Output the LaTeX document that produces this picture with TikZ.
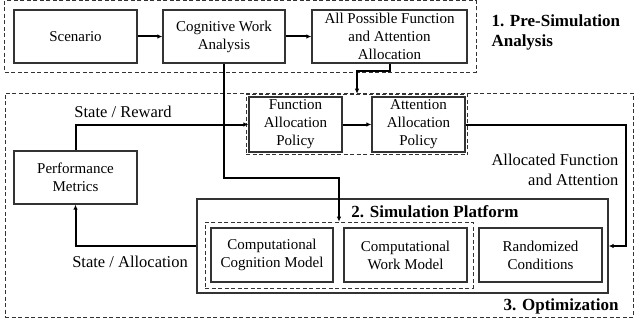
\documentclass[tikz,border=0pt]{standalone}
\usepackage{fontspec}
\setmainfont{Liberation Serif}
\usetikzlibrary{arrows.meta}
\usetikzlibrary{fit, positioning, backgrounds}
\colorlet{myline}{black!80}
\tikzset{
  >={Latex[length=5pt,width=4.5pt]},
  block/.style={draw=myline,line width=1.3pt,rectangle,align=center,inner sep=2,
    font=\fontsize{15}{18}\selectfont},
  frame/.style={draw=myline,line width=0.8pt,dashed,dash pattern=on 4pt off 2.5pt},
  flow/.style={line width=2pt,black,->},
  label/.style={font=\fontsize{16.5}{19.5}\selectfont,align=center},
  title/.style={font=\fontsize{17}{20}\selectfont\bfseries,align=left}
}
\begin{document}
\begin{tikzpicture}[x=1pt,y=-1pt]
  \useasboundingbox (0,0) rectangle (636,326);

  % --- STAGE 1: PRE-SIMULATION ANALYSIS ---
  \node[block, minimum width=123, minimum height=53] (scen) at (75.5, 36.5) {Scenario};
  \node[block, minimum width=122, minimum height=53] (cwa) at (224, 36.5) {Cognitive Work\\Analysis};
  \node[block, minimum width=155, minimum height=53] (all) at (389.5, 36.5) {All Possible Function\\and Attention\\Allocation};

  \node[frame, fit=(scen) (all), inner sep=8.5] (pre-box) {};
  \node[title, anchor=west] at (488, 32) {1. Pre-Simulation\\Analysis};

  \draw[flow] (scen) -- (cwa);
  \draw[flow] (cwa) -- (all);

  % --- STAGE 3: OPTIMIZATION ---
  \node[frame, minimum width=628, minimum height=224] (opt-box) at (319, 205) {};
  \node[title, anchor=east] at (622, 306) {3. Optimization};

  % policies
  \node[block, minimum width=93, minimum height=55] (fun) at (295.5, 124.5) {Function\\Allocation\\Policy};
  \node[block, minimum width=93, minimum height=55] (att) at (418.5, 124.5) {Attention\\Allocation\\Policy};
  \node[frame, fit=(fun) (att), inner sep=2.2] (pol-box) {};

  \node[block, minimum width=123, minimum height=53] (perf) at (75.5, 177.5) {Performance\\Metrics};

  % --- STAGE 2: SIMULATION PLATFORM ---
  \node[draw=myline, line width=1.3pt, minimum width=411, minimum height=94] (sim) at (402.5, 246) {};
  \node[title] at (435, 212) {2. Simulation Platform};

  \node[block, minimum width=122, minimum height=54] (cog) at (272, 255) {Computational\\Cognition Model};
  \node[block, minimum width=123, minimum height=54] (work) at (405.5, 255) {Computational\\Work Model};
  \node[block, minimum width=123, minimum height=54] (rnd) at (540.5, 255) {Randomized\\Conditions};
  \node[frame, fit=(cog) (work), inner sep=5.3] (core-box) {};

  % --- CONNECTIONS ---
  \draw[flow] (all.south) -- ++(0,7) -| (pol-box.north);
  \draw[flow] (cwa.south) -- ++(0,114) -| (core-box.north);
  \draw[flow] (fun) -- (att);
  \draw[flow] (perf.north) |- (fun.west);
  \draw[flow] (sim.west) -| (perf.south);
  \draw[flow] (att.east) -- ++(160,0) |- (sim.east);

  % Labels on connectors
  \node[label] at (123, 112) {State / Reward};
  \node[label] at (130, 262) {State / Allocation};
  \node[label, align=right, anchor=east] at (622, 170) {Allocated Function\\and Attention};

\end{tikzpicture}
\end{document}
